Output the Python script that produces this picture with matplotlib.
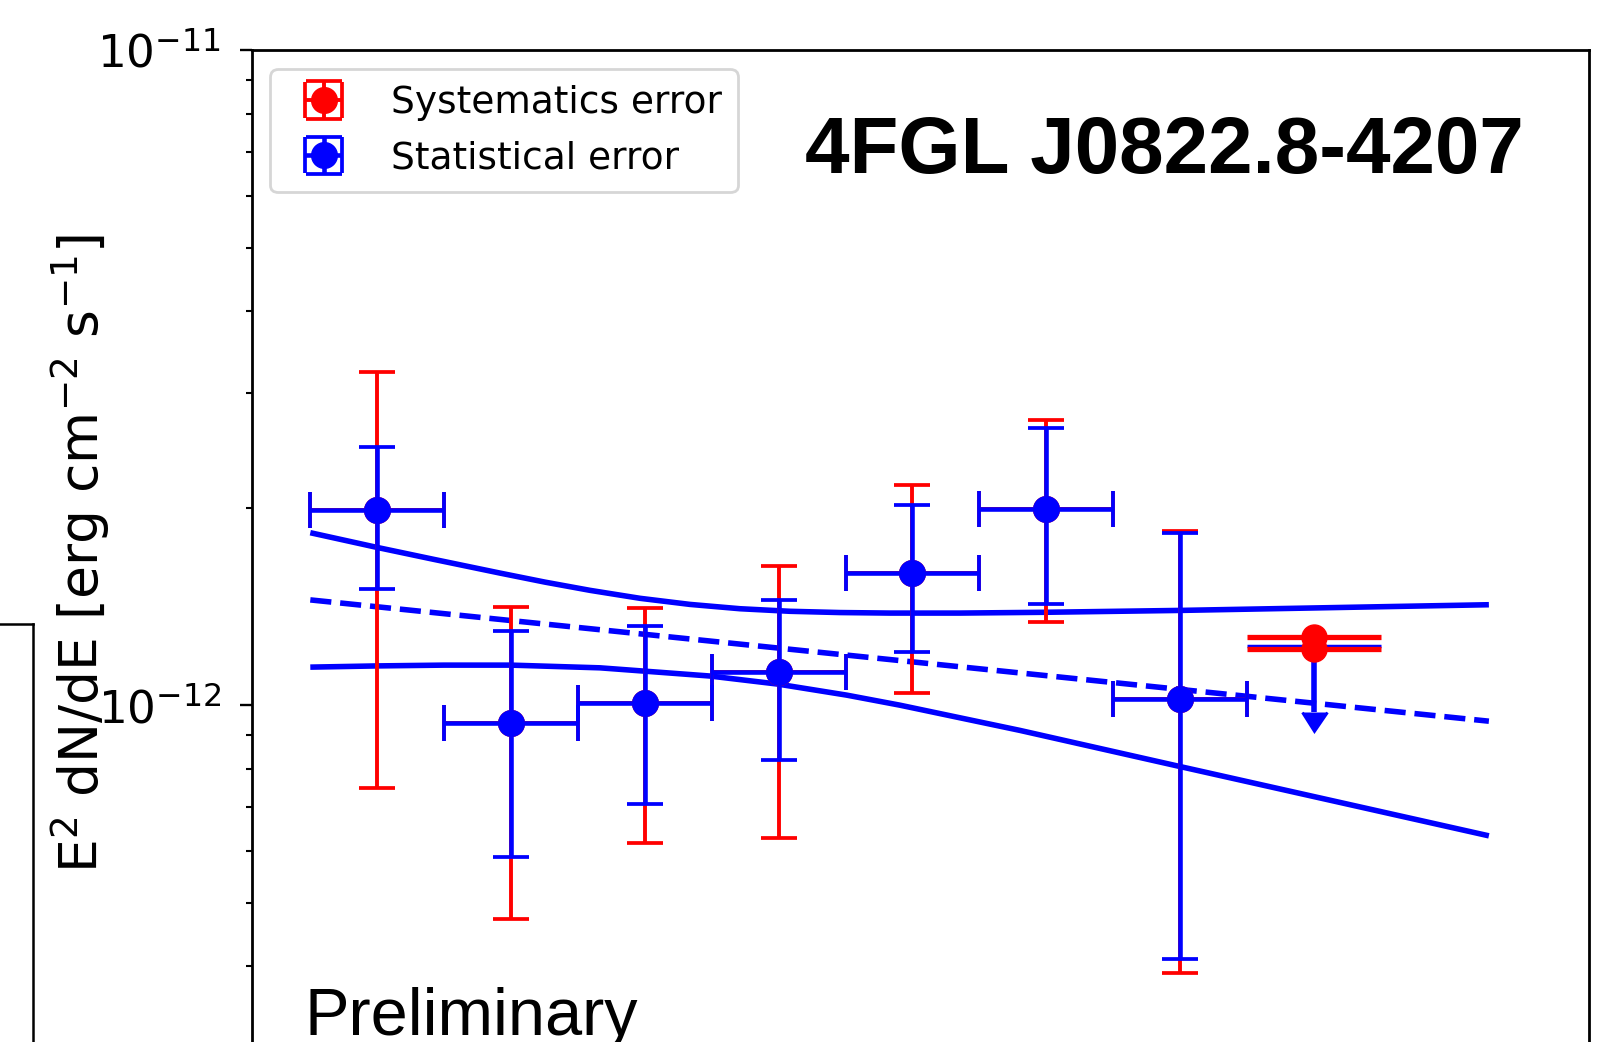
import matplotlib
matplotlib.use('Agg')
import matplotlib.pyplot as plt
from matplotlib.ticker import NullFormatter

# energy bins in MeV (8 bins, last one is an upper limit)
bin_edges = [100, 237.1, 562.3, 1333.5, 3162.3, 7498.9, 17782.8, 42169.7, 100000]
e_center = [154.0, 365.2, 866.0, 2053.5, 4869.7, 11547.8, 27384.2]

# E^2 dN/dE [erg cm^-2 s^-1]
flux = [1.99e-12, 9.41e-13, 1.008e-12, 1.124e-12, 1.594e-12, 1.992e-12, 1.022e-12]
stat_low = [1.508e-12, 5.87e-13, 7.07e-13, 8.25e-13, 1.207e-12, 1.426e-12, 4.10e-13]
stat_high = [2.48e-12, 1.299e-12, 1.32e-12, 1.45e-12, 2.025e-12, 2.655e-12, 1.83e-12]
sys_low = [7.49e-13, 4.72e-13, 6.16e-13, 6.28e-13, 1.046e-12, 1.34e-12, 3.91e-13]
sys_high = [3.23e-12, 1.413e-12, 1.408e-12, 1.632e-12, 2.173e-12, 2.723e-12, 1.843e-12]

# upper limit in the last bin
ul_center = 64938.4
ul_sys = [1.272e-12, 1.219e-12]
ul_stat = 1.231e-12
ul_arrow_to = 9.77e-13

# fitted model: best fit (dashed) and butterfly bounds
model_e = [100, 201000]
model_flux = [1.449e-12, 9.46e-13]
upper_e = [100, 154.0, 221.2, 340.2, 454.5, 608.0, 839.8, 1159.4, 1601, 2210, 3051,
           4214, 6622, 11548, 27384, 201000]
upper_flux = [1.835e-12, 1.7424e-12, 1.6715e-12, 1.5922e-12, 1.5425e-12, 1.4985e-12,
              1.4571e-12, 1.4262e-12, 1.4047e-12, 1.3921e-12, 1.386e-12, 1.3834e-12,
              1.3834e-12, 1.3873e-12, 1.3964e-12, 1.4246e-12]
lower_e = [100, 154.0, 237.1, 365.2, 648.2, 1318, 2049.6, 3186, 4496, 9752, 27384, 201000]
lower_flux = [1.144e-12, 1.1489e-12, 1.1521e-12, 1.1521e-12, 1.1412e-12, 1.1088e-12,
              1.0775e-12, 1.0368e-12, 1.0007e-12, 9.158e-13, 8.066e-13, 6.322e-13]

W, H = 1599, 1042
fig = plt.figure(figsize=(W / 100, H / 100), dpi=100)

# corner of a neighbouring panel on the left
side = fig.add_axes([-0.5, -0.5, 0.5 + 33.3 / W, 0.5 + (H - 624.3) / H])
side.set_xticks([])
side.set_yticks([])
for sp in side.spines.values():
    sp.set_linewidth(1.8)

# main panel, its bottom part lies outside the picture
ax = fig.add_axes([251.5 / W, (H - 1360.4) / H, (1589 - 251.5) / W, 1310 / H])
ax.set_xscale('log')
ax.set_yscale('log')
ax.set_xlim(10 ** 1.8352, 10 ** 5.5838)
ax.set_ylim(1e-13, 1e-11)

xerr = [[c - bin_edges[i] for i, c in enumerate(e_center)],
        [bin_edges[i + 1] - c for i, c in enumerate(e_center)]]
sys_err = [[f - l for f, l in zip(flux, sys_low)], [h - f for f, h in zip(flux, sys_high)]]
stat_err = [[f - l for f, l in zip(flux, stat_low)], [h - f for f, h in zip(flux, stat_high)]]

ax.plot(upper_e, upper_flux, color='blue', lw=4, solid_capstyle='butt',
        solid_joinstyle='round')
ax.plot(lower_e, lower_flux, color='blue', lw=4, solid_capstyle='butt',
        solid_joinstyle='round')
ax.plot(model_e, model_flux, color='blue', lw=4, linestyle=(0, (3.8, 1.6)))

h_sys = ax.errorbar(e_center, flux, xerr=xerr, yerr=sys_err, fmt='o', color='red',
                    ms=18.5, elinewidth=2.8, capsize=13.3, capthick=2.7,
                    label='Systematics error')
h_stat = ax.errorbar(e_center, flux, xerr=xerr, yerr=stat_err, fmt='o', color='blue',
                     ms=18.5, elinewidth=3.3, capsize=13.3, capthick=2.7,
                     label='Statistical error')

# upper limit
ul_xerr = [[ul_center - bin_edges[7]], [bin_edges[8] - ul_center]]
ax.errorbar([ul_center], [ul_stat], xerr=ul_xerr, fmt='none', color='blue',
            elinewidth=2.5, capsize=0)
ax.errorbar([ul_center], [ul_stat], yerr=[[ul_stat - ul_arrow_to], [0]], uplims=True,
            fmt='none', color='blue', elinewidth=4, capsize=9, capthick=2)
ax.errorbar([ul_center] * 2, ul_sys, xerr=[ul_xerr[0] * 2, ul_xerr[1] * 2], fmt='o',
            color='red', ms=18, elinewidth=3.8, capsize=0)

for sp in ax.spines.values():
    sp.set_linewidth(2)
ax.set_yticks([1e-12, 1e-11])
ax.tick_params(axis='y', which='major', length=9, width=1.7, labelsize=32.5, pad=13)
ax.tick_params(axis='y', which='minor', length=4.5, width=1.5)
ax.yaxis.set_minor_formatter(NullFormatter())
ax.tick_params(axis='x', which='both', labelbottom=False)

leg = ax.legend(handles=[h_sys, h_stat], loc='upper left', fontsize=27,
                labelspacing=0.52, borderpad=0.42, handletextpad=0.8,
                borderaxespad=0.5)
leg.get_frame().set_linewidth(2)

fig.text(80 / W, 1 - 553 / H, r'E$^2$ dN/dE [erg cm$^{-2}$ s$^{-1}$]',
         rotation=90, ha='center', va='center', fontsize=38.5)

fig.text(804.5 / W, 1 - 173.3 / H, '4FGL J0822.8-4207', family='Liberation Sans',
         fontweight='bold', fontsize=57.6, ha='left', va='baseline')
fig.text(305 / W, 1 - 1035 / H, 'Preliminary', family='Liberation Sans',
         fontsize=48, ha='left', va='baseline')

fig.savefig('out.png', dpi=100)
